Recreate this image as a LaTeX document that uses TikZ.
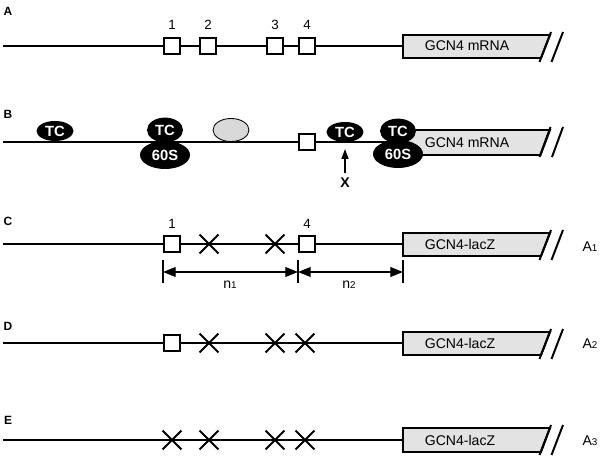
\documentclass[tikz,border=0pt]{standalone}
\usepackage{fontspec}
\setmainfont{Liberation Sans}
\usetikzlibrary{shapes,arrows.meta,positioning,calc}

\begin{document}
\begin{tikzpicture}[x=0.025cm, y=-0.025cm,
        rna/.style={line width=1.4pt},
        uorf/.style={draw, line width=1.3pt, fill=white, minimum size=0.4cm, inner sep=0pt},
        mut/.style={draw, cross out, line width=1.4pt, minimum size=0.42cm, inner sep=0pt},
        orf/.style={draw, line width=1.4pt, fill=gray!22},
        tc/.style={ellipse, fill=black, text=white, font=\bfseries\fontsize{10.5}{12}\selectfont,
            minimum width=0.925cm, minimum height=0.5cm, inner sep=0pt},
        sixty/.style={tc, minimum width=1.25cm, minimum height=0.7cm},
        panel/.style={font=\bfseries\fontsize{8.5}{10}\selectfont},
        num/.style={font=\fontsize{9.5}{11}\selectfont},
        lbl/.style={font=\fontsize{10}{12}\selectfont},
        dim/.style={line width=0.9pt},
        tip/.style={-{Triangle[length=7pt,width=5pt]}}]
        \useasboundingbox (0,0) rectangle (600,457);

        % A: wild-type leader, four uORFs
        \node[panel] (pA) at (8,11) {A};
        \coordinate (sA) at (3,46);
        \coordinate (eA) at (403,46);
        \draw[orf] (403,35) -- (550,35) -- (541,58) -- (403,58) -- cycle;
        \node[lbl] (gA) at (467,46) {GCN4 mRNA};
        \draw[rna] (sA) -- (eA);
        \node[uorf] (a1) at (172,46) {};
        \node[uorf] (a2) at (208,46) {};
        \node[uorf] (a3) at (275,46) {};
        \node[uorf] (a4) at (307,46) {};
        \node[num] (n1) at (172,25) {1};
        \node[num] (n2) at (208,25) {2};
        \node[num] (n3) at (275,25) {3};
        \node[num] (n4) at (307,25) {4};
        \draw[rna] (551,32) -- (539.5,62);
        \draw[rna] (563,32) -- (551.5,62);

        % B: scanning and reinitiation
        \node[panel] (pB) at (8,114) {B};
        \coordinate (sB) at (3,142);
        \coordinate (eB) at (403,142);
        \draw[orf] (403,130) -- (550,130) -- (540.5,155) -- (403,155) -- cycle;
        \node[lbl] (gB) at (467,143) {GCN4 mRNA};
        \draw[rna] (sB) -- (eB);
        \node[uorf] (b4) at (307,142) {};
        \node[tc] (tc1) at (55,131) {TC};
        \node[sixty] (r1) at (165,155) {60S};
        \node[tc, minimum width=0.9cm, minimum height=0.62cm] (tc2) at (165,130) {TC};
        \node[ellipse, draw, line width=0.6pt, fill=gray!30, minimum width=0.9cm,
            minimum height=0.575cm] (s40) at (231,130) {};
        \node[tc] (tc3) at (345,132) {TC};
        \node[sixty] (r2) at (398,154) {60S};
        \node[tc, minimum width=0.9cm, minimum height=0.62cm] (tc4) at (398,131) {TC};
        \node[font=\bfseries\fontsize{10}{12}\selectfont] (x) at (345,183) {X};
        \draw[tip, line width=1pt, shorten >=0.17cm] (x) -- (tc3.south);
        \draw[rna] (550.5,127) -- (539.5,157);
        \draw[rna] (563,127) -- (552,157);

        % C: uORF1 and uORF4 only
        \node[panel] (pC) at (8,221) {C};
        \coordinate (sC) at (3,244);
        \coordinate (eC) at (403,244);
        \draw[orf] (403,233) -- (550,233) -- (541,256) -- (403,256) -- cycle;
        \node[lbl] (gC) at (460,244) {GCN4-lacZ};
        \draw[rna] (sC) -- (eC);
        \node[uorf] (c1) at (172,244) {};
        \node[mut] (c2) at (209,244) {};
        \node[mut] (c3) at (275,244) {};
        \node[uorf] (c4) at (307,244) {};
        \node[num] (m1) at (172,224) {1};
        \node[num] (m4) at (307,224) {4};
        \draw[rna] (551,230) -- (539.5,260);
        \draw[rna] (563,230) -- (551.5,260);
        \node[lbl] (aC) at (590,247) {A{\fontsize{7}{8}\selectfont 1}};

        % spacing n1 / n2
        \coordinate (t1) at (163,260);
        \coordinate (t2) at (298,260);
        \coordinate (t3) at (403,260);
        \draw[dim] (t1) -- ++(0,23);
        \draw[dim] (t2) -- ++(0,23);
        \draw[dim] (t3) -- ++(0,23);
        \draw[dim, {Triangle[length=9pt,width=7pt]}-{Triangle[length=9pt,width=7pt]}]
            ($(t1)+(0,12)$) -- ($(t2)+(0,12)$);
        \draw[dim, {Triangle[length=9pt,width=7pt]}-{Triangle[length=9pt,width=7pt]}]
            ($(t2)+(0,12)$) -- ($(t3)+(0,12)$);
        \node[lbl] (d1) at (230,285) {n{\fontsize{7}{8}\selectfont 1}};
        \node[lbl] (d2) at (349,285) {n{\fontsize{7}{8}\selectfont 2}};

        % D: uORF1 only
        \node[panel] (pD) at (8,326) {D};
        \coordinate (sD) at (3,343);
        \coordinate (eD) at (403,343);
        \draw[orf] (403,332) -- (550,332) -- (541,355) -- (403,355) -- cycle;
        \node[lbl] (gD) at (460,343) {GCN4-lacZ};
        \draw[rna] (sD) -- (eD);
        \node[uorf] (d1u) at (172,343) {};
        \node[mut] (d2u) at (209,343) {};
        \node[mut] (d3u) at (275,343) {};
        \node[mut] (d4u) at (305,343) {};
        \draw[rna] (551,329) -- (539.5,359);
        \draw[rna] (563,329) -- (551.5,359);
        \node[lbl] (aD) at (590,344) {A{\fontsize{7}{8}\selectfont 2}};

        % E: no uORFs
        \node[panel] (pE) at (8,420) {E};
        \coordinate (sE) at (3,440);
        \coordinate (eE) at (403,440);
        \draw[orf] (403,428) -- (550,428) -- (541,452) -- (403,452) -- cycle;
        \node[lbl] (gE) at (460,440) {GCN4-lacZ};
        \draw[rna] (sE) -- (eE);
        \node[mut] (e1) at (172,440) {};
        \node[mut] (e2) at (209,440) {};
        \node[mut] (e3) at (275,440) {};
        \node[mut] (e4) at (305,440) {};
        \draw[rna] (551,425) -- (539.5,455);
        \draw[rna] (563,425) -- (551.5,455);
        \node[lbl] (aE) at (590,441) {A{\fontsize{7}{8}\selectfont 3}};
    \end{tikzpicture}
\end{document}
